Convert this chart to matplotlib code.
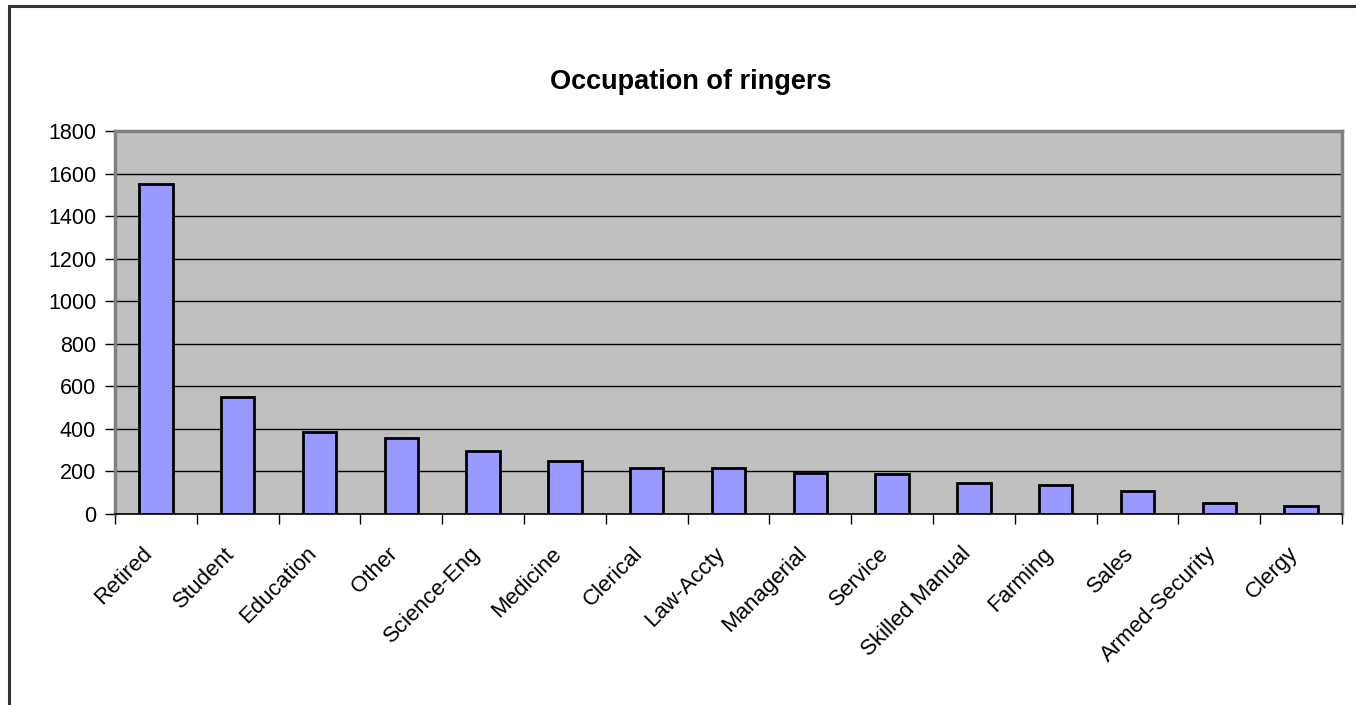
import matplotlib
matplotlib.use("Agg")
import matplotlib.pyplot as plt
import matplotlib.transforms as mtransforms
from matplotlib.patches import Rectangle

plt.rcParams['font.family'] = ['Liberation Sans', 'DejaVu Sans']

# data
occupations = ['Retired', 'Student', 'Education', 'Other', 'Science-Eng', 'Medicine',
               'Clerical', 'Law-Accty', 'Managerial', 'Service', 'Skilled Manual',
               'Farming', 'Sales', 'Armed-Security', 'Clergy']
ringers = [1550, 550, 385, 358, 296, 250, 218, 215, 193, 190, 147, 136, 108, 52, 38]
yticks = [0, 200, 400, 600, 800, 1000, 1200, 1400, 1600, 1800]

W, H = 1356, 705
fig = plt.figure(figsize=(W / 100, H / 100), dpi=100)

# outer chart frame (right and bottom run off the picture)
fig.patches.append(Rectangle((9 / W, -0.1), 1.2, (H - 6) / H + 0.1, transform=fig.transFigure,
                             fill=False, edgecolor='#333333', linewidth=2.2))

ax = fig.add_axes([115 / W, 1 - 514 / H, (1342 - 115) / W, (514 - 131) / H])
ax.set_facecolor('#c0c0c0')

x = list(range(len(occupations)))
ax.bar(x, ringers, width=0.41, color='#9999ff', edgecolor='black', linewidth=2, zorder=3)

ax.set_xlim(-0.5, len(occupations) - 0.5)
ax.set_ylim(0, 1800)
ax.set_yticks(yticks)
ax.set_yticklabels([str(v) for v in yticks], fontsize=15.5)
ax.yaxis.grid(True, color='black', linewidth=1, zorder=1)
ax.set_axisbelow(True)

# category ticks sit between bars, labels at bar centres
ax.set_xticks([i - 0.5 for i in range(len(occupations) + 1)])
ax.set_xticklabels([])
ax.set_xticks(x, minor=True)
ax.set_xticklabels(occupations, minor=True, rotation=45, ha='right', va='top',
                   rotation_mode='anchor', fontsize=16)
ax.tick_params(axis='x', which='minor', length=0, pad=0)
ax.tick_params(axis='x', which='major', length=7, width=1, color='black', direction='out')
ax.tick_params(axis='y', length=7, width=1, color='black', direction='out', pad=6.5)

shift = mtransforms.ScaledTranslation(-14 / 100, -29 / 100, fig.dpi_scale_trans)
for lbl in ax.get_xticklabels(minor=True):
    lbl.set_transform(lbl.get_transform() + shift)

for side in ['top', 'right', 'left']:
    ax.spines[side].set_color('#808080')
    ax.spines[side].set_linewidth(2.5)
ax.spines['bottom'].set_color('black')
ax.spines['bottom'].set_linewidth(1.2)

fig.text(691 / W, 1 - 89 / H, 'Occupation of ringers', ha='center', va='baseline',
         fontsize=19.5, fontweight='bold')

fig.savefig('out.png', dpi=100)
